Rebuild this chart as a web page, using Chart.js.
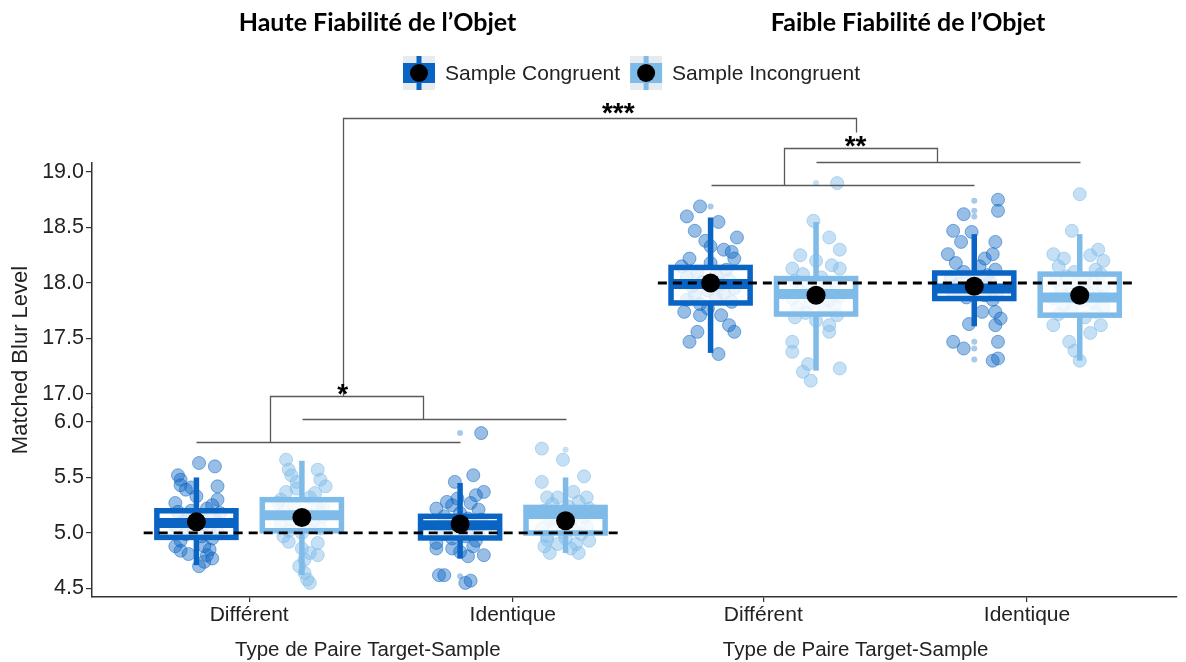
<!DOCTYPE html>
<html>
<head>
<meta charset="utf-8">
<script src="https://cdn.jsdelivr.net/npm/chart.js@4.4.1/dist/chart.umd.min.js"></script>
<style>
  html, body { margin: 0; padding: 0; background: #fff; }
</style>
</head>
<body>
<canvas id="chart" width="1186" height="662"></canvas>
<script>
const panelTitles = ['Haute Fiabilité de l’Objet', 'Faible Fiabilité de l’Objet']
const categories = ['Différent', 'Identique', 'Différent', 'Identique']
const groupX = [1, 2, 2.95, 3.95]
const seriesNames = ['Sample Congruent', 'Sample Incongruent']
const xAxisTitle = 'Type de Paire Target-Sample'
const yAxisTitle = 'Matched Blur Level'
const yTicksLow = [4.5, 5.0, 5.5, 6.0]
const yTicksHigh = [17.0, 17.5, 18.0, 18.5, 19.0]
const refValues = [5.0, 18.0]

// box stats, one value per group: Haute-Diff, Haute-Ident, Faible-Diff, Faible-Ident
const congLow = [4.71, 4.77, 17.37, 17.61]
const congQ1 = [4.96, 4.955, 17.82, 17.86]
const congMed = [5.09, 5.07, 17.99, 17.95]
const congQ3 = [5.20, 5.15, 18.14, 18.09]
const congHigh = [5.50, 5.45, 18.59, 18.44]
const congMean = [5.10, 5.08, 18.00, 17.97]

const incLow = [4.62, 4.82, 17.21, 17.30]
const incQ1 = [5.02, 5.00, 17.72, 17.71]
const incMed = [5.16, 5.17, 17.90, 17.87]
const incQ3 = [5.30, 5.23, 18.04, 18.08]
const incHigh = [5.65, 5.50, 18.55, 18.44]
const incMean = [5.14, 5.11, 17.89, 17.89]

// individual participants: [jitter offset, value]
const congHauteDiff = [[0.01,5.63],[0.07,5.60],[-0.07,5.52],[-0.06,5.48],[-0.06,5.43],[-0.04,5.39],[0.08,5.42],[-0.02,5.41],[0.08,5.30],[-0.08,5.27],[0.06,5.25],[0.04,5.22],[-0.07,5.19],[-0.03,5.16],[0.02,5.14],[0.07,5.12],[-0.05,5.10],[0.03,5.08],[-0.08,5.06],[0.05,5.05],[-0.01,5.03],[0.08,5.01],[-0.04,4.99],[0.02,4.97],[0.06,4.95],[-0.06,4.93],[-0.08,4.88],[-0.06,4.84],[-0.03,4.81],[0.03,4.88],[0.05,4.85],[0.04,4.80],[0.03,4.74],[0.01,4.70],[0.06,4.77],[-0.02,5.20],[0.0,5.33],[0.09,5.18]]
const incHauteDiff = [[-0.06,5.66],[-0.05,5.57],[-0.04,5.52],[-0.02,5.46],[0.06,5.57],[0.07,5.48],[0.09,5.42],[0.05,5.36],[-0.06,5.37],[-0.08,5.30],[-0.09,5.27],[0.03,5.32],[-0.03,5.25],[0.06,5.22],[-0.07,5.19],[0.01,5.17],[0.08,5.15],[-0.04,5.12],[0.04,5.10],[-0.08,5.08],[0.02,5.06],[0.07,5.04],[-0.05,5.02],[0.0,5.00],[-0.07,4.97],[-0.05,4.92],[0.06,4.91],[0.0,4.86],[0.03,4.82],[0.06,4.80],[0.01,4.76],[-0.01,4.70],[0.01,4.64],[0.02,4.58],[0.03,4.55],[0.08,5.24],[-0.02,5.40]]
const congHauteIdent = [[0.08,5.90],[0.05,5.52],[-0.02,5.46],[0.09,5.37],[-0.05,5.28],[-0.03,5.25],[0.04,5.27],[-0.09,5.22],[0.07,5.21],[0.0,5.18],[-0.06,5.15],[0.03,5.13],[0.08,5.12],[-0.04,5.10],[0.01,5.08],[-0.08,5.06],[0.05,5.05],[-0.02,5.03],[0.07,5.01],[-0.06,4.99],[0.02,4.97],[-0.03,4.95],[0.06,4.93],[-0.09,4.91],[-0.09,4.86],[-0.03,4.86],[0.05,4.88],[0.09,4.80],[0.03,4.79],[0.0,4.83],[-0.08,4.62],[-0.06,4.62],[0.02,4.55],[0.04,4.57],[-0.01,5.31],[0.06,5.34]]
const incHauteIdent = [[-0.09,5.76],[-0.01,5.66],[-0.09,5.46],[0.07,5.51],[0.03,5.37],[0.08,5.32],[-0.07,5.32],[-0.03,5.32],[0.05,5.28],[-0.05,5.26],[0.01,5.24],[0.09,5.22],[-0.08,5.20],[0.04,5.18],[-0.02,5.16],[0.07,5.14],[-0.06,5.12],[0.02,5.10],[-0.04,5.08],[0.08,5.06],[-0.09,5.04],[0.03,5.03],[-0.01,5.01],[0.06,4.99],[-0.07,4.97],[0.0,4.95],[-0.07,4.94],[-0.08,4.88],[-0.06,4.82],[0.05,4.82],[0.02,4.86],[-0.03,4.90],[0.09,4.93],[0.04,4.90]]
const congFaibleDiff = [[-0.09,18.60],[-0.04,18.69],[0.03,18.55],[-0.06,18.47],[-0.02,18.38],[0.10,18.41],[0.05,18.30],[0.08,18.28],[0.09,18.22],[-0.08,18.22],[-0.11,18.15],[0.0,18.18],[0.06,18.12],[-0.05,18.10],[0.02,18.07],[-0.09,18.05],[0.07,18.03],[-0.03,18.01],[0.04,17.99],[-0.07,17.97],[0.09,17.95],[-0.01,17.93],[0.05,17.91],[-0.06,17.89],[0.02,17.87],[-0.09,17.85],[0.08,17.83],[-0.04,17.81],[-0.10,17.74],[-0.04,17.71],[0.04,17.71],[0.07,17.62],[0.09,17.56],[-0.05,17.56],[-0.08,17.47],[0.03,17.36],[0.0,18.33],[-0.01,17.77]]
const incFaibleDiff = [[-0.01,18.56],[0.05,18.41],[0.09,18.30],[-0.09,18.13],[0.06,18.16],[0.09,18.13],[0.08,18.90],[-0.05,18.08],[0.02,18.05],[-0.08,18.02],[0.07,18.00],[-0.03,17.98],[0.04,17.95],[-0.06,17.93],[0.01,17.90],[0.09,17.88],[-0.09,17.86],[0.05,17.84],[-0.02,17.82],[0.07,17.80],[-0.07,17.78],[0.03,17.76],[-0.04,17.73],[0.08,17.71],[-0.08,17.69],[0.0,17.66],[0.05,17.62],[0.05,17.56],[-0.09,17.47],[-0.09,17.38],[-0.03,17.27],[-0.05,17.20],[-0.02,17.12],[0.09,17.23],[0.0,18.20],[-0.06,18.25]]
const congFaibleIdent = [[0.09,18.75],[0.09,18.65],[-0.04,18.62],[-0.08,18.47],[-0.01,18.46],[-0.05,18.37],[0.08,18.37],[-0.10,18.26],[0.04,18.22],[0.07,18.26],[-0.07,18.18],[0.02,18.15],[0.08,18.12],[-0.04,18.10],[0.05,18.07],[-0.09,18.05],[0.0,18.03],[0.06,18.01],[-0.06,17.99],[0.03,17.97],[-0.02,17.95],[0.09,17.93],[-0.08,17.91],[0.04,17.89],[-0.03,17.87],[0.07,17.85],[0.08,17.74],[0.03,17.74],[-0.02,17.63],[0.08,17.62],[-0.08,17.47],[-0.04,17.41],[0.09,17.47],[0.07,17.30],[0.09,17.32],[0.10,17.68]]
const incFaibleIdent = [[0.0,18.80],[-0.03,18.47],[-0.10,18.26],[0.09,18.20],[-0.06,18.22],[0.04,18.25],[-0.08,18.15],[0.06,18.12],[-0.02,18.10],[0.08,18.08],[-0.05,18.06],[0.02,18.04],[-0.09,18.02],[0.05,18.00],[-0.01,17.98],[0.09,17.96],[-0.07,17.94],[0.03,17.92],[-0.04,17.90],[0.07,17.88],[-0.10,17.86],[0.01,17.84],[0.05,17.82],[-0.06,17.80],[0.09,17.78],[-0.03,17.76],[0.06,17.74],[-0.08,17.72],[0.02,17.69],[-0.10,17.62],[0.08,17.62],[-0.04,17.47],[-0.02,17.39],[0.0,17.30],[0.04,17.55],[0.07,18.30]]

// boxplot outliers: [group, value]
const congOutliers = [[1,5.90],[1,4.61],[2,18.69],[3,18.74],[3,18.65],[3,18.60],[3,17.47],[3,17.41],[3,17.31]]
const incOutliers = [[1,5.75],[2,18.90]]

// significance brackets: polylines of [x, value, axis]
const brackets = [
  [[0.8,5.82,'L'],[1.8,5.82,'L']],
  [[1.2,6.03,'L'],[2.2,6.03,'L']],
  [[1.08,5.82,'L'],[1.08,6.23,'L'],[1.66,6.23,'L'],[1.66,6.03,'L']],
  [[1.355,6.23,'L'],[1.355,19.49,'H'],[3.30,19.49,'H'],[3.30,19.36,'H']],
  [[2.75,18.88,'H'],[3.75,18.88,'H']],
  [[3.15,19.09,'H'],[4.15,19.09,'H']],
  [[3.027,18.88,'H'],[3.027,19.215,'H'],[3.608,19.215,'H'],[3.608,19.09,'H']]
]
const stars = [['*',1.355,6.30,'L'],['***',2.40,19.58,'H'],['**',3.30,19.29,'H']]

const DARK = '#0a64c4'
const LIGHT = '#7fbbe8'
const dodge = 0.2
const boxHalf = 0.15
const FONT = "'Liberation Sans', Arial, sans-serif"

const congPts = [congHauteDiff, congHauteIdent, congFaibleDiff, congFaibleIdent]
const incPts = [incHauteDiff, incHauteIdent, incFaibleDiff, incFaibleIdent]

function jitterData(ptsByGroup, side, groups) {
  const out = []
  groups.forEach(g => ptsByGroup[g].forEach(([dx, y]) => out.push({ x: groupX[g] + side * dodge + dx, y })))
  return out
}
function outlierData(list, side, groups) {
  return list.filter(o => groups.includes(o[0])).map(([g, y]) => ({ x: groupX[g] + side * dodge, y }))
}
function meanData(groups) {
  const out = []
  groups.forEach(g => {
    out.push({ x: groupX[g] - dodge, y: congMean[g] })
    out.push({ x: groupX[g] + dodge, y: incMean[g] })
  })
  return out
}

const low = [0, 1], high = [2, 3]
const ptStyle = (color, fill) => ({ backgroundColor: fill, borderColor: color, borderWidth: 1, pointRadius: 6.5 })
const outStyle = (fill) => ({ backgroundColor: fill, borderColor: fill, borderWidth: 0, pointRadius: 3 })
const darkFill = 'rgba(10,100,196,0.42)', darkLine = 'rgba(10,100,196,0.5)'
const lightFill = 'rgba(127,187,232,0.45)', lightLine = 'rgba(127,187,232,0.55)'

const datasets = [
  { label: 'meanLow', data: meanData(low), yAxisID: 'yLow', backgroundColor: '#000', borderWidth: 0, pointRadius: 9.5 },
  { label: 'meanHigh', data: meanData(high), yAxisID: 'yHigh', backgroundColor: '#000', borderWidth: 0, pointRadius: 9.5 },
  { label: 'outCL', data: outlierData(congOutliers, -1, low), yAxisID: 'yLow', ...outStyle('rgba(10,100,196,0.35)') },
  { label: 'outCH', data: outlierData(congOutliers, -1, high), yAxisID: 'yHigh', ...outStyle('rgba(10,100,196,0.35)') },
  { label: 'outIL', data: outlierData(incOutliers, 1, low), yAxisID: 'yLow', ...outStyle('rgba(127,187,232,0.45)') },
  { label: 'outIH', data: outlierData(incOutliers, 1, high), yAxisID: 'yHigh', ...outStyle('rgba(127,187,232,0.45)') },
  { label: 'ptsCL', data: jitterData(congPts, -1, low), yAxisID: 'yLow', ...ptStyle(darkLine, darkFill) },
  { label: 'ptsCH', data: jitterData(congPts, -1, high), yAxisID: 'yHigh', ...ptStyle(darkLine, darkFill) },
  { label: 'ptsIL', data: jitterData(incPts, 1, low), yAxisID: 'yLow', ...ptStyle(lightLine, lightFill) },
  { label: 'ptsIH', data: jitterData(incPts, 1, high), yAxisID: 'yHigh', ...ptStyle(lightLine, lightFill) }
]

function line(ctx, x1, y1, x2, y2) {
  ctx.beginPath(); ctx.moveTo(x1, y1); ctx.lineTo(x2, y2); ctx.stroke()
}

function drawBoxes(chart) {
  const ctx = chart.ctx, xs = chart.scales.x
  const half = xs.getPixelForValue(boxHalf) - xs.getPixelForValue(0)
  ctx.save()
  ctx.lineCap = 'butt'
  groupX.forEach((gx, g) => {
    const ys = g < 2 ? chart.scales.yLow : chart.scales.yHigh
    const Y = v => ys.getPixelForValue(v)
    const series = [
      [-1, DARK, congLow, congQ1, congMed, congQ3, congHigh],
      [1, LIGHT, incLow, incQ1, incMed, incQ3, incHigh]
    ]
    series.forEach(([side, color, lo, q1, med, q3, hi]) => {
      const cx = xs.getPixelForValue(gx + side * dodge)
      const top = Y(q3[g]), bot = Y(q1[g])
      ctx.strokeStyle = color
      ctx.lineWidth = 5.5
      line(ctx, cx, Y(hi[g]), cx, top)
      line(ctx, cx, bot, cx, Y(lo[g]))
      ctx.fillStyle = 'rgba(255,255,255,0.8)'
      ctx.fillRect(cx - half, top, 2 * half, bot - top)
      ctx.strokeRect(cx - half, top, 2 * half, bot - top)
      ctx.lineWidth = 10
      line(ctx, cx - half, Y(med[g]), cx + half, Y(med[g]))
    })
  })
  // dashed reference lines
  ctx.strokeStyle = '#000'
  ctx.lineWidth = 2.8
  ctx.setLineDash([9, 6])
  refValues.forEach((v, p) => {
    const ys = p === 0 ? chart.scales.yLow : chart.scales.yHigh
    const c = (groupX[2 * p] + groupX[2 * p + 1]) / 2
    line(ctx, xs.getPixelForValue(c - 0.9), ys.getPixelForValue(v), xs.getPixelForValue(c + 0.9), ys.getPixelForValue(v))
  })
  ctx.restore()
}

function legendIcon(ctx, cx, cy, color) {
  ctx.fillStyle = '#e6ebf0'
  ctx.fillRect(cx - 16, cy - 17, 32, 34)
  ctx.fillStyle = color
  ctx.fillRect(cx - 16, cy - 10, 32, 20)
  ctx.fillRect(cx - 2.5, cy - 17, 5, 34)
  ctx.fillStyle = '#000'
  ctx.beginPath(); ctx.arc(cx, cy, 9, 0, Math.PI * 2); ctx.fill()
}

const decorPlugin = {
  id: 'decor',
  beforeDatasetsDraw(chart) { chart.$boxesDone = false },
  beforeDatasetDraw(chart, args) {
    if (!chart.$boxesDone && args.index <= 1) {
      drawBoxes(chart)
      chart.$boxesDone = true
    }
  },
  afterDraw(chart) {
    const ctx = chart.ctx, xs = chart.scales.x
    const ysOf = a => a === 'L' ? chart.scales.yLow : chart.scales.yHigh
    ctx.save()
    // brackets
    ctx.strokeStyle = '#595959'
    ctx.lineWidth = 1.3
    brackets.forEach(path => {
      ctx.beginPath()
      path.forEach(([x, v, a], i) => {
        const X = Math.round(xs.getPixelForValue(x)) + 0.5
        const Yp = Math.round(ysOf(a).getPixelForValue(v)) + 0.5
        i ? ctx.lineTo(X, Yp) : ctx.moveTo(X, Yp)
      })
      ctx.stroke()
    })
    ctx.fillStyle = '#000'
    ctx.font = "bold 28px 'Liberation Sans', Arial, sans-serif"
    ctx.textAlign = 'center'
    ctx.textBaseline = 'middle'
    stars.forEach(([t, x, v, a]) => {
      ctx.fillText(t, xs.getPixelForValue(x), ysOf(a).getPixelForValue(v) + 7)
    })
    // panel titles
    ctx.font = "bold 25px Lato, 'Open Sans', sans-serif"
    ctx.fillStyle = '#000'
    ctx.fillText(panelTitles[0], xs.getPixelForValue(1.487), 23)
    ctx.fillText(panelTitles[1], xs.getPixelForValue(3.499), 23)
    // x axis titles
    ctx.font = '20.5px ' + FONT
    ctx.fillStyle = '#222'
    ctx.fillText(xAxisTitle, xs.getPixelForValue(1.45), 650)
    ctx.fillText(xAxisTitle, xs.getPixelForValue(3.30), 650)
    // y axis title
    ctx.save()
    ctx.translate(21, 360)
    ctx.rotate(-Math.PI / 2)
    ctx.font = '22px ' + FONT
    ctx.fillText(yAxisTitle, 0, 0)
    ctx.restore()
    // legend
    ctx.font = '21px ' + FONT
    ctx.textAlign = 'left'
    let lx = 403
    const ly = 73
    seriesNames.forEach((name, i) => {
      legendIcon(ctx, lx + 16, ly, i === 0 ? DARK : LIGHT)
      ctx.fillStyle = '#222'
      ctx.fillText(name, lx + 42, ly + 1)
      lx += 42 + ctx.measureText(name).width + 10
    })
    ctx.restore()
  }
}

const tickFont = { family: FONT, size: 21.5 }
const yScale = (ticksArr, min, max, weight) => ({
  type: 'linear',
  position: 'left',
  stack: 'y',
  stackWeight: weight,
  min, max,
  afterBuildTicks: s => { s.ticks = ticksArr.map(v => ({ value: v })) },
  afterFit: s => { s.width = 92 },
  ticks: { callback: v => v.toFixed(1), font: tickFont, color: '#222', padding: 2 },
  grid: { drawOnChartArea: false, drawTicks: true, tickLength: 6, color: '#333', lineWidth: 1.2 },
  border: { display: true, color: '#333', width: 1.5 }
})

new Chart(document.getElementById('chart'), {
  type: 'scatter',
  data: { datasets },
  options: {
    responsive: false,
    animation: false,
    layout: { padding: { top: 163, left: 0, right: 4, bottom: 0 } },
    plugins: { legend: { display: false }, tooltip: { enabled: false } },
    scales: {
      x: {
        type: 'linear',
        min: 0.404,
        max: 4.517,
        afterBuildTicks: s => { s.ticks = groupX.map(v => ({ value: v })) },
        afterFit: s => { s.height = 65 },
        ticks: { callback: (v, i) => categories[i], font: { family: FONT, size: 21 }, color: '#222', padding: 1, autoSkip: false, maxRotation: 0 },
        grid: { drawOnChartArea: false, drawTicks: true, tickLength: 5, color: '#333', lineWidth: 1.2 },
        border: { display: true, color: '#333', width: 1.5 }
      },
      yLow: yScale(yTicksLow, 4.423, 6.126, 1.703),
      yHigh: yScale(yTicksHigh, 16.874, 19.081, 2.207)
    }
  },
  plugins: [decorPlugin]
})
</script>
</body>
</html>
